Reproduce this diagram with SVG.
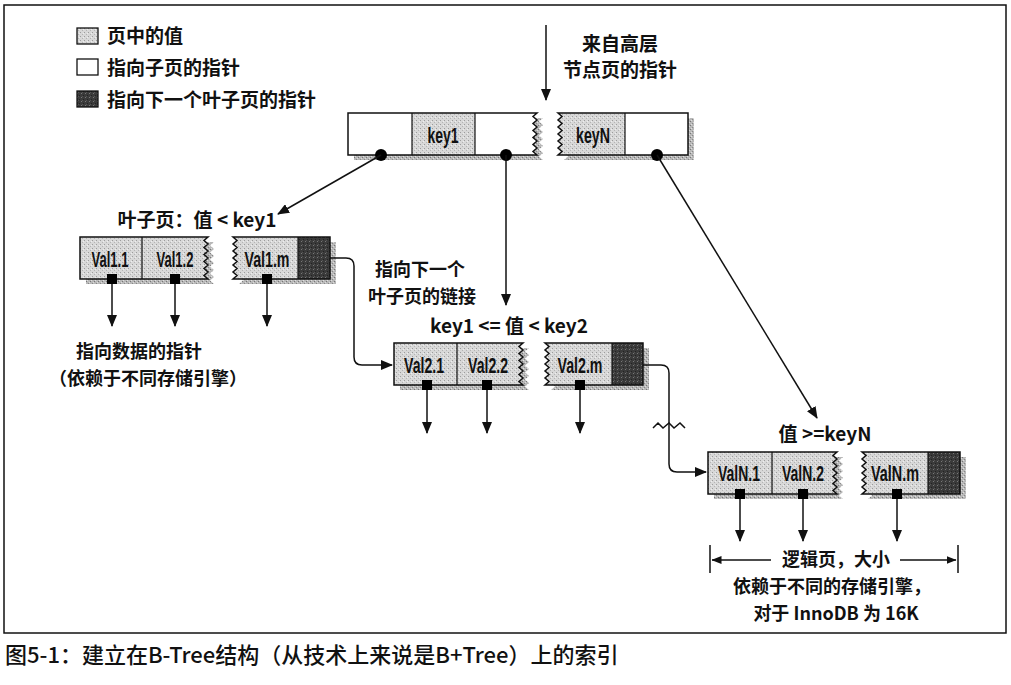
<svg xmlns="http://www.w3.org/2000/svg" width="1011" height="685" viewBox="0 0 1011 685">
<style>
.cj{font-family:"Noto Sans CJK SC","Liberation Sans",sans-serif;font-weight:bold;font-size:19px;fill:#111}
.ml{font-size:18px}
.cap{font-family:"Noto Sans CJK SC","Liberation Sans",sans-serif;font-weight:500;font-size:22px;fill:#111}
.cell{font-family:"Liberation Sans Narrow","Liberation Sans",sans-serif;font-weight:bold;font-size:22px;fill:#111;text-anchor:middle}
.mid{text-anchor:middle}
.ol{fill:none;stroke:#111;stroke-width:1.5}
.dv{stroke:#111;stroke-width:1.2}
.sh{fill:url(#pShadow)}
.ln{fill:none;stroke:#111;stroke-width:1.5}
.sq{fill:#000}
</style>
<defs>
<pattern id="pGray" width="4" height="4" patternUnits="userSpaceOnUse"><rect width="4" height="4" fill="#d8d8d8"/><rect x="0" y="0" width="1" height="1" fill="#9c9c9c"/><rect x="2" y="2" width="1" height="1" fill="#b4b4b4"/><rect x="3" y="1" width="1" height="1" fill="#eeeeee"/></pattern>
<pattern id="pDark" width="4" height="4" patternUnits="userSpaceOnUse"><rect width="4" height="4" fill="#3a3a3a"/><rect x="1" y="1" width="1" height="1" fill="#777"/><rect x="3" y="3" width="1" height="1" fill="#222"/><rect x="2" y="0" width="1" height="1" fill="#555"/></pattern>
<pattern id="pShadow" width="4" height="4" patternUnits="userSpaceOnUse"><rect width="4" height="4" fill="#b8b8b8"/><rect x="0" y="0" width="1" height="1" fill="#777"/><rect x="2" y="2" width="1" height="1" fill="#888"/><rect x="1" y="3" width="1" height="1" fill="#e0e0e0"/><rect x="3" y="1" width="1" height="1" fill="#dcdcdc"/></pattern>
<marker id="ah" markerWidth="12" markerHeight="10" refX="11" refY="5" orient="auto" markerUnits="userSpaceOnUse"><path d="M0,0 L12,5 L0,10 Z" fill="#111"/></marker>
<marker id="ahs" markerWidth="10" markerHeight="8" refX="9.5" refY="4" orient="auto" markerUnits="userSpaceOnUse"><path d="M0,0 L10,4 L0,8 Z" fill="#111"/></marker>
</defs>

<rect x="4" y="5" width="1002" height="628" fill="#fff" stroke="#111" stroke-width="1.5"/>

<g id="legend">
<rect x="77" y="28" width="21" height="16" fill="url(#pGray)" stroke="#111" stroke-width="1.3"/>
<text class="cj" x="107" y="43">页中的值</text>
<rect x="77" y="59" width="21" height="16" fill="#fff" stroke="#111" stroke-width="1.3"/>
<text class="cj" x="107" y="75">指向子页的指针</text>
<rect x="77" y="91" width="21" height="16" fill="url(#pDark)" stroke="#111" stroke-width="1.3"/>
<text class="cj" x="107" y="107">指向下一个叶子页的指针</text>
</g>

<g id="root">
<path class="sh" transform="translate(6,5)" d="M348 113 H537 l-4 3.5 l4 3.5 l-4 3.5 l4 3.5 l-4 3.5 l4 3.5 l-4 3.5 l4 3.5 l-4 3.5 l4 3.5 l-4 3.5 l4 3.5 H348 Z"/>
<path class="sh" transform="translate(6,5)" d="M558 113 H688 V155 H558 l4 -3.5 l-4 -3.5 l4 -3.5 l-4 -3.5 l4 -3.5 l-4 -3.5 l4 -3.5 l-4 -3.5 l4 -3.5 l-4 -3.5 l4 -3.5 l-4 -3.5 Z"/>
<path fill="#fff" d="M348 113 H537 l-4 3.5 l4 3.5 l-4 3.5 l4 3.5 l-4 3.5 l4 3.5 l-4 3.5 l4 3.5 l-4 3.5 l4 3.5 l-4 3.5 l4 3.5 H348 Z"/>
<rect x="412" y="113" width="63" height="42" fill="url(#pGray)"/>
<path class="ol" d="M348 113 H537 l-4 3.5 l4 3.5 l-4 3.5 l4 3.5 l-4 3.5 l4 3.5 l-4 3.5 l4 3.5 l-4 3.5 l4 3.5 l-4 3.5 l4 3.5 H348 Z"/>
<line class="dv" x1="412" y1="113" x2="412" y2="155"/>
<line class="dv" x1="475" y1="113" x2="475" y2="155"/>
<path fill="url(#pGray)" d="M558 113 H688 V155 H558 l4 -3.5 l-4 -3.5 l4 -3.5 l-4 -3.5 l4 -3.5 l-4 -3.5 l4 -3.5 l-4 -3.5 l4 -3.5 l-4 -3.5 l4 -3.5 l-4 -3.5 Z"/>
<rect x="625" y="113" width="63" height="42" fill="#fff"/>
<path class="ol" d="M558 113 H688 V155 H558 l4 -3.5 l-4 -3.5 l4 -3.5 l-4 -3.5 l4 -3.5 l-4 -3.5 l4 -3.5 l-4 -3.5 l4 -3.5 l-4 -3.5 l4 -3.5 l-4 -3.5 Z"/>
<line class="dv" x1="625" y1="113" x2="625" y2="155"/>
<text class="cell" x="443" y="143" textLength="31" lengthAdjust="spacingAndGlyphs">key1</text>
<text class="cell" x="593" y="143" textLength="34" lengthAdjust="spacingAndGlyphs">keyN</text>
<circle cx="381" cy="155" r="6" fill="#000"/>
<circle cx="506" cy="155" r="6" fill="#000"/>
<circle cx="657" cy="155" r="6" fill="#000"/>
</g>

<g id="leaf1">
<text class="cj mid" x="197" y="227">叶子页：值 &lt; key1</text>
<path class="sh" transform="translate(6,5)" d="M80 237 H208 l-4 3.5 l4 3.5 l-4 3.5 l4 3.5 l-4 3.5 l4 3.5 l-4 3.5 l4 3.5 l-4 3.5 l4 3.5 l-4 3.5 l4 3.5 H80 Z"/>
<path class="sh" transform="translate(6,5)" d="M233 237 H330 V279 H233 l4 -3.5 l-4 -3.5 l4 -3.5 l-4 -3.5 l4 -3.5 l-4 -3.5 l4 -3.5 l-4 -3.5 l4 -3.5 l-4 -3.5 l4 -3.5 l-4 -3.5 Z"/>
<path class="ol" style="fill:url(#pGray)" d="M80 237 H208 l-4 3.5 l4 3.5 l-4 3.5 l4 3.5 l-4 3.5 l4 3.5 l-4 3.5 l4 3.5 l-4 3.5 l4 3.5 l-4 3.5 l4 3.5 H80 Z"/>
<line class="dv" x1="142" y1="237" x2="142" y2="279"/>
<path style="fill:url(#pGray)" d="M233 237 H330 V279 H233 l4 -3.5 l-4 -3.5 l4 -3.5 l-4 -3.5 l4 -3.5 l-4 -3.5 l4 -3.5 l-4 -3.5 l4 -3.5 l-4 -3.5 l4 -3.5 l-4 -3.5 Z"/>
<rect x="298" y="237" width="32" height="42" fill="url(#pDark)"/>
<path class="ol" d="M233 237 H330 V279 H233 l4 -3.5 l-4 -3.5 l4 -3.5 l-4 -3.5 l4 -3.5 l-4 -3.5 l4 -3.5 l-4 -3.5 l4 -3.5 l-4 -3.5 l4 -3.5 l-4 -3.5 Z"/>
<line class="dv" x1="298" y1="237" x2="298" y2="279"/>
<text class="cell" x="110" y="267" textLength="37" lengthAdjust="spacingAndGlyphs">Val1.1</text>
<text class="cell" x="175" y="267" textLength="37" lengthAdjust="spacingAndGlyphs">Val1.2</text>
<text class="cell" x="267" y="267" textLength="45" lengthAdjust="spacingAndGlyphs">Val1.m</text>
<rect class="sq" x="107" y="274" width="10" height="10"/>
<rect class="sq" x="170" y="274" width="10" height="10"/>
<rect class="sq" x="262" y="274" width="10" height="10"/>
</g>

<g id="leaf2">
<text class="cj mid" x="509" y="333">key1 &lt;= 值 &lt; key2</text>
<path class="sh" transform="translate(6,5)" d="M394 343 H523 l-4 3.5 l4 3.5 l-4 3.5 l4 3.5 l-4 3.5 l4 3.5 l-4 3.5 l4 3.5 l-4 3.5 l4 3.5 l-4 3.5 l4 3.5 H394 Z"/>
<path class="sh" transform="translate(6,5)" d="M545 343 H643 V385 H545 l4 -3.5 l-4 -3.5 l4 -3.5 l-4 -3.5 l4 -3.5 l-4 -3.5 l4 -3.5 l-4 -3.5 l4 -3.5 l-4 -3.5 l4 -3.5 l-4 -3.5 Z"/>
<path class="ol" style="fill:url(#pGray)" d="M394 343 H523 l-4 3.5 l4 3.5 l-4 3.5 l4 3.5 l-4 3.5 l4 3.5 l-4 3.5 l4 3.5 l-4 3.5 l4 3.5 l-4 3.5 l4 3.5 H394 Z"/>
<line class="dv" x1="457" y1="343" x2="457" y2="385"/>
<path style="fill:url(#pGray)" d="M545 343 H643 V385 H545 l4 -3.5 l-4 -3.5 l4 -3.5 l-4 -3.5 l4 -3.5 l-4 -3.5 l4 -3.5 l-4 -3.5 l4 -3.5 l-4 -3.5 l4 -3.5 l-4 -3.5 Z"/>
<rect x="612" y="343" width="31" height="42" fill="url(#pDark)"/>
<path class="ol" d="M545 343 H643 V385 H545 l4 -3.5 l-4 -3.5 l4 -3.5 l-4 -3.5 l4 -3.5 l-4 -3.5 l4 -3.5 l-4 -3.5 l4 -3.5 l-4 -3.5 l4 -3.5 l-4 -3.5 Z"/>
<line class="dv" x1="612" y1="343" x2="612" y2="385"/>
<text class="cell" x="424" y="373" textLength="40" lengthAdjust="spacingAndGlyphs">Val2.1</text>
<text class="cell" x="488" y="373" textLength="40" lengthAdjust="spacingAndGlyphs">Val2.2</text>
<text class="cell" x="580" y="373" textLength="45" lengthAdjust="spacingAndGlyphs">Val2.m</text>
<rect class="sq" x="422" y="380" width="10" height="10"/>
<rect class="sq" x="482" y="380" width="10" height="10"/>
<rect class="sq" x="575" y="380" width="10" height="10"/>
</g>

<g id="leafN">
<text class="cj mid" x="825" y="441">值 &gt;=keyN</text>
<path class="sh" transform="translate(6,5)" d="M708 452 H837 l-4 3.5 l4 3.5 l-4 3.5 l4 3.5 l-4 3.5 l4 3.5 l-4 3.5 l4 3.5 l-4 3.5 l4 3.5 l-4 3.5 l4 3.5 H708 Z"/>
<path class="sh" transform="translate(6,5)" d="M862 452 H960 V494 H862 l4 -3.5 l-4 -3.5 l4 -3.5 l-4 -3.5 l4 -3.5 l-4 -3.5 l4 -3.5 l-4 -3.5 l4 -3.5 l-4 -3.5 l4 -3.5 l-4 -3.5 Z"/>
<path class="ol" style="fill:url(#pGray)" d="M708 452 H837 l-4 3.5 l4 3.5 l-4 3.5 l4 3.5 l-4 3.5 l4 3.5 l-4 3.5 l4 3.5 l-4 3.5 l4 3.5 l-4 3.5 l4 3.5 H708 Z"/>
<line class="dv" x1="772" y1="452" x2="772" y2="494"/>
<path style="fill:url(#pGray)" d="M862 452 H960 V494 H862 l4 -3.5 l-4 -3.5 l4 -3.5 l-4 -3.5 l4 -3.5 l-4 -3.5 l4 -3.5 l-4 -3.5 l4 -3.5 l-4 -3.5 l4 -3.5 l-4 -3.5 Z"/>
<rect x="928" y="452" width="32" height="42" fill="url(#pDark)"/>
<path class="ol" d="M862 452 H960 V494 H862 l4 -3.5 l-4 -3.5 l4 -3.5 l-4 -3.5 l4 -3.5 l-4 -3.5 l4 -3.5 l-4 -3.5 l4 -3.5 l-4 -3.5 l4 -3.5 l-4 -3.5 Z"/>
<line class="dv" x1="928" y1="452" x2="928" y2="494"/>
<text class="cell" x="739" y="481" textLength="42" lengthAdjust="spacingAndGlyphs">ValN.1</text>
<text class="cell" x="803" y="481" textLength="42" lengthAdjust="spacingAndGlyphs">ValN.2</text>
<text class="cell" x="895" y="481" textLength="48" lengthAdjust="spacingAndGlyphs">ValN.m</text>
<rect class="sq" x="735" y="489" width="10" height="10"/>
<rect class="sq" x="798" y="489" width="10" height="10"/>
<rect class="sq" x="892" y="489" width="10" height="10"/>
</g>

<g id="labels">
<text class="cj mid" x="620" y="51">来自高层</text>
<text class="cj mid" x="620" y="77">节点页的指针</text>
<text class="cj ml mid" x="420" y="276">指向下一个</text>
<text class="cj ml mid" x="422" y="303">叶子页的链接</text>
<text class="cj ml mid" x="139" y="358">指向数据的指针</text>
<text class="cj ml mid" x="148" y="385">（依赖于不同存储引擎）</text>
<text class="cj ml mid" x="836" y="566">逻辑页，大小</text>
<text class="cj ml mid" x="832" y="593">依赖于不同的存储引擎，</text>
<text class="cj ml mid" x="836" y="620">对于 InnoDB 为 16K</text>
</g>

<g id="connectors">
<line class="ln" x1="546" y1="25" x2="546" y2="100" marker-end="url(#ah)"/>
<line class="ln" x1="381" y1="155" x2="278" y2="214" marker-end="url(#ah)"/>
<line class="ln" x1="506" y1="155" x2="506" y2="305" marker-end="url(#ah)"/>
<line class="ln" x1="657" y1="155" x2="817" y2="418" marker-end="url(#ah)"/>
<path class="ln" d="M330 258 H346 Q354 258 354 266 V357 Q354 365 362 365 H392" marker-end="url(#ah)"/>
<path class="ln" d="M643 365 H661 Q669 365 669 373 V464 Q669 472 677 472 H706" marker-end="url(#ah)"/>
<polyline class="ln" points="653,428 658,423 663,428 669,423 674,428 680,423 685,428"/>
<line class="ln" x1="112" y1="284" x2="112" y2="326" marker-end="url(#ah)"/>
<line class="ln" x1="175" y1="284" x2="175" y2="326" marker-end="url(#ah)"/>
<line class="ln" x1="267" y1="284" x2="267" y2="326" marker-end="url(#ah)"/>
<line class="ln" x1="427" y1="390" x2="427" y2="433" marker-end="url(#ah)"/>
<line class="ln" x1="487" y1="390" x2="487" y2="433" marker-end="url(#ah)"/>
<line class="ln" x1="580" y1="390" x2="580" y2="433" marker-end="url(#ah)"/>
<line class="ln" x1="740" y1="499" x2="740" y2="541" marker-end="url(#ah)"/>
<line class="ln" x1="803" y1="499" x2="803" y2="541" marker-end="url(#ah)"/>
<line class="ln" x1="897" y1="499" x2="897" y2="541" marker-end="url(#ah)"/>
<line class="ln" x1="710" y1="545" x2="710" y2="573"/>
<line class="ln" x1="958" y1="545" x2="958" y2="573"/>
<line class="ln" x1="771" y1="560" x2="712" y2="560" marker-end="url(#ahs)"/>
<line class="ln" x1="900" y1="560" x2="956" y2="560" marker-end="url(#ahs)"/>
</g>

<text class="cap" x="5" y="663">图5-1：建立在B-Tree结构（从技术上来说是B+Tree）上的索引</text>
</svg>
